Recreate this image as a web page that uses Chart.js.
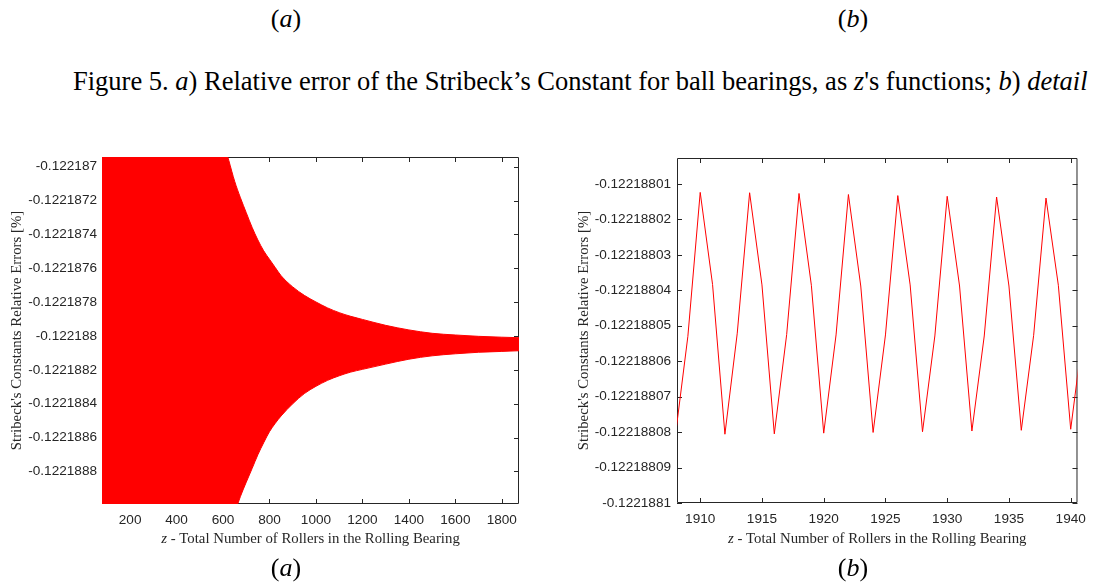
<!DOCTYPE html>
<html><head><meta charset="utf-8">
<script src="https://cdn.jsdelivr.net/npm/chart.js@4.4.0/dist/chart.umd.min.js"></script>
<style>
html,body{margin:0;padding:0;background:#fff;}
body{width:1094px;height:583px;position:relative;overflow:hidden;font-family:'Liberation Serif','Times New Roman',serif;color:#000;}
i{font-family:'Liberation Serif','Times New Roman',serif;font-style:italic;}
.lab{position:absolute;font-size:26px;line-height:30px;white-space:nowrap;transform:translateX(-50%);}
#cap{position:absolute;left:73px;top:66px;font-size:26.5px;line-height:30px;white-space:nowrap;}
.box{position:absolute;top:140px;width:547px;height:420px;}
</style></head><body>
<div class="lab" style="left:286px;top:4px">(<i>a</i>)</div>
<div class="lab" style="left:853px;top:4px">(<i>b</i>)</div>
<div id="cap">Figure 5. <i>a</i>) Relative error of the Stribeck’s Constant for ball bearings, as <i>z</i>'s functions; <i>b</i>) <i>detail</i></div>
<div class="box" style="left:0"><canvas id="ca" width="547" height="420"></canvas></div>
<div class="box" style="left:547px"><canvas id="cb" width="547" height="420"></canvas></div>
<div class="lab" style="left:286px;top:553px">(<i>a</i>)</div>
<div class="lab" style="left:853px;top:553px">(<i>b</i>)</div>
<script>
// ---------- Chart (a): envelope of the densely oscillating relative error ----------
const zA = [79, 300, 500, 600, 625, 650, 675, 700, 725, 750, 775, 800, 825, 850, 900, 950, 1000, 1050, 1100, 1150,
  1200, 1300, 1400, 1500, 1600, 1700, 1800, 1874];
const upperA = [-0.122157, -0.122180, -0.1221859, -0.12218684, -0.122186964, -0.122187086, -0.122187184, -0.122187272,
  -0.122187358, -0.122187433, -0.122187497, -0.122187547, -0.122187596, -0.122187644, -0.12218771, -0.12218776,
  -0.122187799, -0.122187834, -0.122187862, -0.122187884, -0.122187902, -0.122187937, -0.122187964, -0.122187984,
  -0.122187994, -0.122188002, -0.122188007, -0.12218801];
const lowerA = [-0.122219, -0.122196, -0.1221902, -0.1221893, -0.12218915, -0.122189045, -0.122188947, -0.122188863,
  -0.122188783, -0.122188701, -0.12218863, -0.122188565, -0.122188515, -0.122188472, -0.1221884, -0.12218834,
  -0.122188297, -0.122188262, -0.122188235, -0.122188213, -0.122188197, -0.122188166, -0.122188137, -0.122188117,
  -0.122188105, -0.122188096, -0.122188091, -0.122188087];
const xTicksA = [200, 400, 600, 800, 1000, 1200, 1400, 1600, 1800];
const yTicksA = [-0.122187, -0.1221872, -0.1221874, -0.1221876, -0.1221878, -0.122188, -0.1221882, -0.1221884, -0.1221886, -0.1221888];
const yLabelsA = ['-0.122187', '-0.1221872', '-0.1221874', '-0.1221876', '-0.1221878', '-0.122188', '-0.1221882', '-0.1221884', '-0.1221886', '-0.1221888'];

// ---------- Chart (b): detail ----------
const zB = [1908, 1909, 1910, 1911, 1912, 1913, 1914, 1915, 1916, 1917, 1918, 1919, 1920, 1921, 1922, 1923, 1924,
  1925, 1926, 1927, 1928, 1929, 1930, 1931, 1932, 1933, 1934, 1935, 1936, 1937, 1938, 1939, 1940, 1941];
const valB = [-0.1221880807, -0.122188053, -0.1221880124, -0.1221880384, -0.1221880806, -0.1221880521, -0.1221880125,
  -0.1221880385, -0.1221880805, -0.1221880525, -0.1221880127, -0.1221880386, -0.1221880803, -0.1221880526,
  -0.122188013, -0.1221880388, -0.1221880801, -0.1221880526, -0.1221880133, -0.1221880385, -0.1221880799,
  -0.1221880529, -0.1221880135, -0.1221880388, -0.1221880797, -0.1221880529, -0.1221880137, -0.1221880388,
  -0.1221880795, -0.1221880527, -0.122188014, -0.1221880386, -0.1221880792, -0.122188052];
const xTicksB = [1910, 1915, 1920, 1925, 1930, 1935, 1940];
const yTicksB = [-0.1221881, -0.12218809, -0.12218808, -0.12218807, -0.12218806, -0.12218805, -0.12218804, -0.12218803, -0.12218802, -0.12218801];
const yLabelsB = ['-0.1221881', '-0.12218809', '-0.12218808', '-0.12218807', '-0.12218806', '-0.12218805', '-0.12218804', '-0.12218803', '-0.12218802', '-0.12218801'];

const yTitle = "Stribeck's Constants Relative Errors [%]";
const xTitleVar = 'z';
const xTitleRest = ' - Total Number of Rollers in the Rolling Bearing';

const AX = '#262626';
const tickFont = {family: "'Liberation Sans', Arial, Helvetica, sans-serif", size: 13.6};
const serif = "'Liberation Serif', 'Times New Roman', serif";
const TS = '14.8px ';

const frame = {
  id: 'frame',
  beforeDatasetsDraw(chart) {
    const {ctx, chartArea: a, scales: {x, y}} = chart;
    ctx.save();
    ctx.strokeStyle = AX; ctx.lineWidth = 1;
    ctx.beginPath();
    ctx.rect(a.left + 0.5, a.top + 0.5, a.right - a.left - 1, a.bottom - a.top - 1);
    x.ticks.forEach((t, i) => {
      const p = Math.round(x.getPixelForTick(i)) + 0.5;
      ctx.moveTo(p, a.bottom); ctx.lineTo(p, a.bottom - 5);
      ctx.moveTo(p, a.top); ctx.lineTo(p, a.top + 5);
    });
    y.ticks.forEach((t, i) => {
      const p = Math.round(y.getPixelForTick(i)) + 0.5;
      ctx.moveTo(a.left, p); ctx.lineTo(a.left + 5, p);
      ctx.moveTo(a.right, p); ctx.lineTo(a.right - 5, p);
    });
    ctx.stroke();
    ctx.restore();
  },
  afterDraw(chart, args, opts) {
    const {ctx, chartArea: a} = chart;
    ctx.save();
    ctx.fillStyle = AX;
    ctx.textBaseline = 'middle';
    ctx.font = TS + serif;
    ctx.save();
    ctx.translate(opts.yTitleX, (a.top + a.bottom) / 2);
    ctx.rotate(-Math.PI / 2);
    ctx.textAlign = 'center';
    ctx.fillText(yTitle, 0, 0);
    ctx.restore();
    ctx.font = 'italic ' + TS + serif;
    const w1 = ctx.measureText(xTitleVar).width;
    ctx.font = TS + serif;
    const w2 = ctx.measureText(xTitleRest).width;
    const x0 = (a.left + a.right) / 2 - (w1 + w2) / 2;
    ctx.textAlign = 'left';
    ctx.font = 'italic ' + TS + serif;
    ctx.fillText(xTitleVar, x0, opts.xTitleY);
    ctx.font = TS + serif;
    ctx.fillText(xTitleRest, x0 + w1, opts.xTitleY);
    ctx.restore();
  }
};

function axes(xmin, xmax, xt, ymin, ymax, yt, yl, yWidth, xHeight, yPad) {
  return {
    x: {
      type: 'linear', min: xmin, max: xmax,
      afterBuildTicks: s => { s.ticks = xt.map(v => ({value: v})); },
      afterFit: s => { s.height = xHeight; },
      grid: {display: false, drawTicks: false}, border: {display: false},
      ticks: {color: AX, font: tickFont, padding: 8, autoSkip: false, maxRotation: 0, callback: v => String(v)}
    },
    y: {
      type: 'linear', min: ymin, max: ymax,
      afterBuildTicks: s => { s.ticks = yt.map(v => ({value: v})); },
      afterFit: s => { s.width = yWidth; },
      grid: {display: false, drawTicks: false}, border: {display: false},
      ticks: {color: AX, font: tickFont, padding: yPad, autoSkip: false, callback: (v, i) => yl[i]}
    }
  };
}

const common = {
  responsive: false, animation: false, devicePixelRatio: 1,
  plugins: {legend: {display: false}, tooltip: {enabled: false}},
  elements: {point: {radius: 0}, line: {tension: 0}}
};

new Chart(document.getElementById('ca'), {
  type: 'line',
  data: {
    datasets: [
      {data: zA.map((z, i) => ({x: z, y: upperA[i]})), borderColor: '#ff0000', borderWidth: 1, backgroundColor: '#ff0000', fill: '+1', cubicInterpolationMode: 'monotone'},
      {data: zA.map((z, i) => ({x: z, y: lowerA[i]})), borderColor: '#ff0000', borderWidth: 1, fill: false, cubicInterpolationMode: 'monotone'}
    ]
  },
  options: Object.assign({}, common, {
    layout: {padding: {top: 17, right: 28, left: 0, bottom: 0}},
    scales: axes(79, 1874, xTicksA, -0.122188992, -0.122186943, yTicksA, yLabelsA, 102, 56, 5),
    plugins: Object.assign({}, common.plugins, {frame: {yTitleX: 17, xTitleY: 399}})
  }),
  plugins: [frame]
});

new Chart(document.getElementById('cb'), {
  type: 'line',
  data: {
    datasets: [
      {data: zB.map((z, i) => ({x: z, y: valB[i]})), borderColor: '#ff0000', borderWidth: 1, fill: false}
    ]
  },
  options: Object.assign({}, common, {
    layout: {padding: {top: 18, right: 11, left: 0, bottom: 0}},
    scales: axes(1908.12, 1940.55, xTicksB, -0.1221881, -0.1221880027, yTicksB, yLabelsB, 130, 57, 6),
    plugins: Object.assign({}, common.plugins, {frame: {yTitleX: 37, xTitleY: 399}})
  }),
  plugins: [frame]
});
</script>
</body></html>
